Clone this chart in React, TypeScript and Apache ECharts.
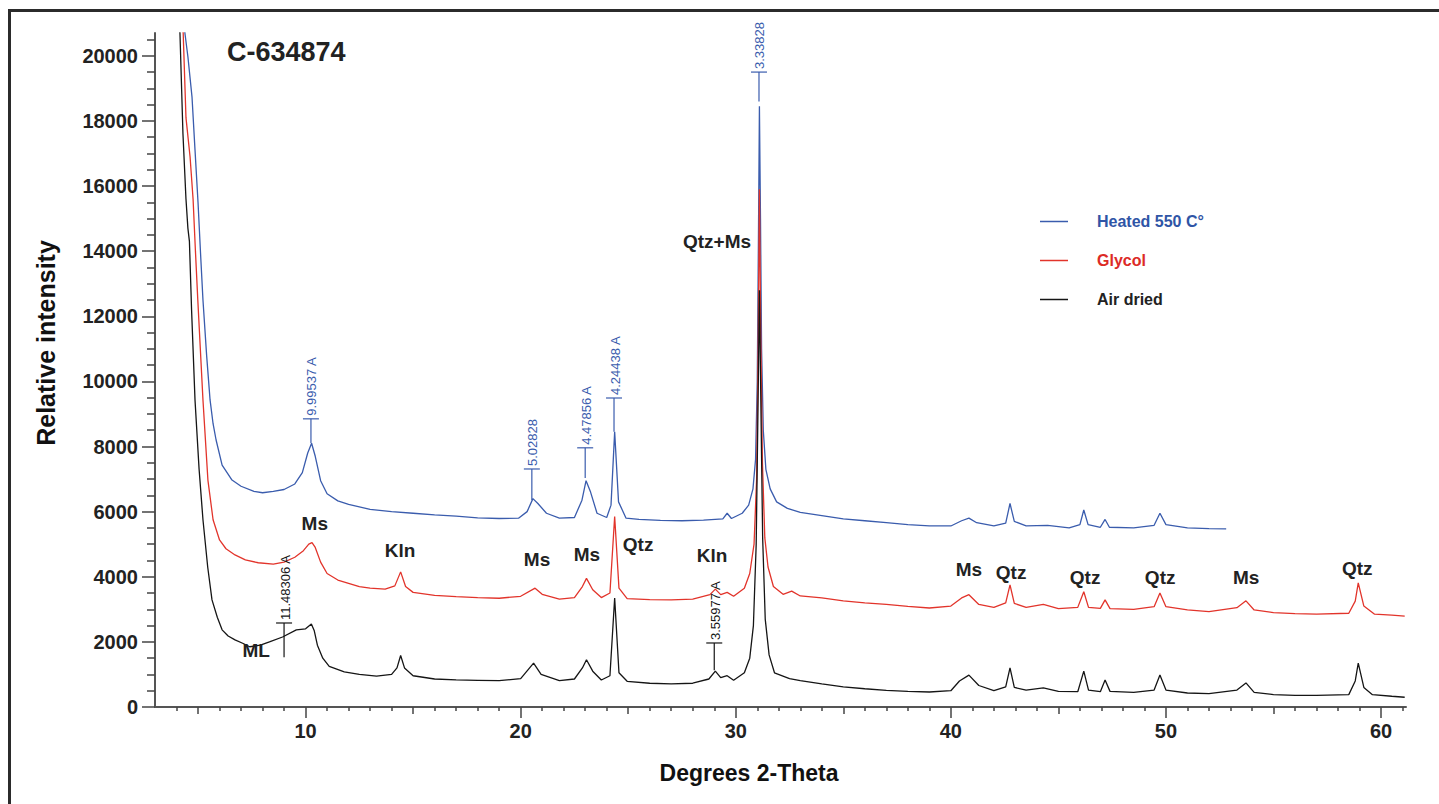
import React, { useEffect, useRef } from "react";
import * as echarts from "echarts";

const FONT = "'Liberation Sans', Arial, Helvetica, sans-serif";

const BLUE = "#3a5cad";
const RED = "#e2342b";
const BLACK = "#151515";

const seriesNames = ["Heated 550 C°", "Glycol", "Air dried"];

// [2-theta, intensity]
const heatedData: number[][] = [
  [4.3, 21500], [4.39, 20700], [4.53, 19970], [4.72, 18740], [4.86, 17110], [5.0, 15500],
  [5.12, 13900], [5.23, 12500], [5.4, 10800], [5.56, 9430], [5.7, 8700], [5.84, 8200],
  [6.12, 7430], [6.58, 6970], [7.0, 6780], [7.6, 6620], [8.0, 6580], [8.5, 6620],
  [9.0, 6680], [9.5, 6850], [9.85, 7200], [10.1, 7800], [10.28, 8100], [10.45, 7700],
  [10.7, 6950], [11.0, 6550], [11.5, 6330], [12, 6220], [13, 6070], [14, 6000], [15, 5950],
  [16, 5900], [17, 5860], [18, 5810], [19, 5790], [19.9, 5800], [20.3, 6000], [20.57, 6400],
  [20.8, 6250], [21.2, 5950], [21.8, 5800], [22.5, 5820], [22.85, 6350], [23.04, 6950],
  [23.25, 6600], [23.55, 5950], [24.0, 5820], [24.2, 6200], [24.37, 8450], [24.55, 6300],
  [24.9, 5800], [25.5, 5760], [26.5, 5730], [27.5, 5720], [28.5, 5740], [29.4, 5780],
  [29.6, 5950], [29.8, 5790], [30.3, 5950], [30.6, 6200], [30.8, 6700], [30.92, 7600],
  [31.0, 10000], [31.05, 14000], [31.1, 18450], [31.15, 15000], [31.2, 11000], [31.28, 8500],
  [31.4, 7300], [31.6, 6700], [31.9, 6300], [32.4, 6100],
  [33, 5980], [34, 5880], [35, 5780], [36, 5720], [37, 5660], [38, 5600], [39, 5560],
  [40, 5560], [40.5, 5720], [40.84, 5800], [41.2, 5660], [42, 5560], [42.55, 5650],
  [42.75, 6250], [42.95, 5700], [43.5, 5560], [44.5, 5580], [45.5, 5500], [46.0, 5600],
  [46.18, 6050], [46.38, 5600], [46.95, 5520], [47.17, 5760], [47.37, 5520], [48.5, 5500],
  [49.45, 5580], [49.72, 5950], [50.0, 5600], [51, 5500], [52, 5480], [52.8, 5470],
];

const glycolData: number[][] = [
  [4.2, 21500], [4.31, 20700], [4.44, 18100], [4.63, 16900], [4.77, 15600], [4.88, 14000],
  [4.99, 12500], [5.23, 9430], [5.46, 6970], [5.7, 5750], [6.0, 5130], [6.3, 4860],
  [6.72, 4670], [7.2, 4520], [7.8, 4430], [8.5, 4390], [9.0, 4450], [9.5, 4600],
  [9.9, 4800], [10.15, 5000], [10.3, 5050], [10.45, 4900], [10.7, 4450], [11.0, 4100],
  [11.5, 3900], [12.0, 3800], [12.5, 3700], [13.0, 3650], [13.7, 3620], [14.15, 3720],
  [14.42, 4150], [14.65, 3700], [15.0, 3520], [16, 3430], [17, 3390], [18, 3360], [19, 3340],
  [20.0, 3400], [20.67, 3650], [21.0, 3460], [21.8, 3310], [22.5, 3360], [22.87, 3700],
  [23.06, 3950], [23.35, 3600], [23.75, 3360], [24.15, 3500], [24.37, 5850], [24.57, 3650],
  [24.95, 3330], [26, 3300], [27, 3290], [28, 3310], [28.8, 3450], [29.05, 3620], [29.3, 3450],
  [29.6, 3520], [29.9, 3400], [30.4, 3650], [30.65, 4100], [30.85, 5000], [30.97, 7000],
  [31.04, 11000], [31.1, 15900], [31.16, 11500], [31.24, 7500], [31.35, 5200], [31.5, 4300],
  [31.75, 3700], [32.2, 3460], [32.6, 3560], [33, 3410],
  [34, 3350], [35, 3260], [36, 3200], [37, 3150], [38, 3090], [39, 3040], [40, 3100],
  [40.5, 3350], [40.84, 3450], [41.3, 3150], [42.0, 3060], [42.55, 3200], [42.75, 3750],
  [42.95, 3180], [43.5, 3060], [44.3, 3150], [45.0, 3020], [45.9, 3060], [46.18, 3540],
  [46.4, 3060], [46.95, 3030], [47.17, 3290], [47.4, 3020], [48.5, 3000], [49.45, 3080],
  [49.72, 3500], [50.0, 3080], [51, 2980], [52, 2930], [53.3, 3050], [53.72, 3260],
  [54.1, 2980], [55, 2900], [56, 2870], [57, 2850], [58.5, 2880], [58.8, 3250], [58.94, 3810],
  [59.2, 3100], [59.7, 2850], [60.5, 2820], [61.1, 2790],
];

const airDriedData: number[][] = [
  [4.05, 21500], [4.16, 20700], [4.3, 17600], [4.44, 15600], [4.53, 14700], [4.6, 14300],
  [4.7, 12200], [4.86, 9430], [5.05, 7300], [5.23, 5750], [5.45, 4300], [5.65, 3290],
  [5.9, 2750], [6.12, 2370], [6.4, 2180], [6.72, 2060], [7.1, 1950], [7.4, 1850],
  [7.9, 1900], [8.32, 2000], [8.93, 2150], [9.57, 2370], [10.0, 2400], [10.27, 2550],
  [10.4, 2350], [10.55, 1900], [10.8, 1500], [11.1, 1250], [11.8, 1080], [12.5, 1000],
  [13.3, 950], [14.0, 1000], [14.25, 1200], [14.42, 1580], [14.6, 1200], [15.0, 960],
  [16, 860], [17, 830], [18, 820], [19, 810], [20.0, 870], [20.6, 1350], [20.95, 1000],
  [21.8, 810], [22.5, 860], [22.87, 1200], [23.06, 1450], [23.35, 1100], [23.75, 830],
  [24.15, 960], [24.37, 3350], [24.57, 1050], [24.95, 790], [26, 730], [27, 710], [28, 730],
  [28.75, 860], [29.05, 1100], [29.3, 900], [29.6, 960], [29.9, 820], [30.4, 1050],
  [30.65, 1500], [30.82, 2500], [30.95, 5000], [31.03, 9000], [31.1, 12800], [31.17, 9200],
  [31.25, 5200], [31.37, 2700], [31.55, 1600], [31.8, 1050],
  [32.5, 870], [33, 810], [34, 710], [35, 620], [36, 560], [37, 510], [38, 480], [39, 460],
  [40, 500], [40.4, 800], [40.84, 980], [41.3, 660], [42.0, 500], [42.55, 620], [42.75, 1200],
  [42.95, 600], [43.5, 520], [44.3, 590], [45.0, 480], [45.9, 470], [46.18, 1100], [46.4, 520],
  [46.95, 470], [47.17, 830], [47.4, 480], [48.5, 450], [49.45, 520], [49.72, 980], [50.0, 520],
  [51, 430], [52, 410], [53.3, 520], [53.72, 740], [54.1, 450], [55, 380], [56, 360], [57, 360],
  [58.5, 380], [58.8, 800], [58.94, 1350], [59.2, 600], [59.6, 380], [60.5, 330], [61.1, 300],
];

// d-spacing markers: [2-theta, bottom of stem, top (bar) of stem]
const heatedMarks: number[][] = [
  [10.25, 8110, 8850], [20.52, 6360, 7310], [23.0, 7030, 7960], [24.34, 8450, 9490], [31.08, 18600, 19500],
];
const heatedMarkLabels = ["9.99537 A", "5.02828", "4.47856 A", "4.24438 A", "3.33828"];
const airMarks: number[][] = [[9.0, 1530, 2580], [29.0, 1130, 1966]];
const airMarkLabels = ["11.48306 A", "3.55977 A"];

// mineral phase labels: [2-theta, intensity]
const phasePos: number[][] = [
  [10.43, 5650], [14.39, 4820], [20.76, 4515], [23.08, 4670], [25.46, 4980], [28.9, 4640],
  [29.13, 14285], [40.84, 4210], [42.8, 4120], [46.24, 3990], [49.73, 3990], [53.73, 3990],
  [58.89, 4240], [7.7, 1750],
];
const phaseNames = ["Ms", "Kln", "Ms", "Ms", "Qtz", "Kln", "Qtz+Ms", "Ms", "Qtz", "Qtz", "Qtz", "Ms", "Qtz", "ML"];

const xLabels = [10, 20, 30, 40, 50, 60];
const xMid = [5, 15, 25, 35, 45, 55];
const xMinor = [4, 6, 7, 8, 9, 11, 12, 13, 14, 16, 17, 18, 19, 21, 22, 23, 24, 26, 27, 28, 29, 31, 32, 33, 34, 36, 37, 38, 39, 41, 42, 43, 44, 46, 47, 48, 49, 51, 52, 53, 54, 56, 57, 58, 59, 61];
const yLabels = [0, 2000, 4000, 6000, 8000, 10000, 12000, 14000, 16000, 18000, 20000];
const yMinor = [500, 1000, 1500, 2500, 3000, 3500, 4500, 5000, 5500, 6500, 7000, 7500, 8500, 9000, 9500, 10500, 11000, 11500, 12500, 13000, 13500, 14500, 15000, 15500, 16500, 17000, 17500, 18500, 19000, 19500, 20500];

const X_MIN = 3;
const X_MAX = 61.16;
const Y_MAX = 20700;

function markerRenderer(labels: string[], color: string) {
  return (params: any, api: any) => {
    const x = api.value(0);
    const b = api.coord([x, api.value(1)]);
    const t = api.coord([x, api.value(2)]);
    return {
      type: "group",
      children: [
        { type: "line", shape: { x1: b[0], y1: b[1], x2: t[0], y2: t[1] }, style: { stroke: color, lineWidth: 1.2 } },
        { type: "line", shape: { x1: t[0] - 8, y1: t[1], x2: t[0] + 8, y2: t[1] }, style: { stroke: color, lineWidth: 1.2 } },
        {
          type: "text",
          x: t[0] + 1,
          y: t[1] - 3,
          rotation: Math.PI / 2,
          style: { text: labels[params.dataIndex], fill: color, fontSize: 13, fontFamily: FONT, align: "left", verticalAlign: "middle" },
        },
      ],
    };
  };
}

export default function App() {
  const ref = useRef<HTMLDivElement>(null);
  useEffect(() => {
    if (!ref.current) return;
    const chart = echarts.init(ref.current, null, { renderer: "svg" });
    const tickStyle = { color: "#444", width: 1.5 };
    const baseX = { type: "value", min: X_MIN, max: X_MAX, position: "bottom", splitLine: { show: false } };
    const baseY = { type: "value", min: 0, max: Y_MAX, position: "left", splitLine: { show: false } };
    chart.setOption({
      animation: false,
      backgroundColor: "#ffffff",
      grid: { left: 155, right: 33, top: 33, bottom: 97, containLabel: false },
      legend: {
        orient: "vertical",
        left: 1035,
        top: 208,
        icon: "rect",
        itemWidth: 28,
        itemHeight: 1.5,
        itemGap: 22,
        selectedMode: false,
        data: [
          { name: seriesNames[0], textStyle: { color: "#2f55a6" } },
          { name: seriesNames[1], textStyle: { color: "#dc2a26" } },
          { name: seriesNames[2], textStyle: { color: "#222" } },
        ],
        textStyle: { fontSize: 16, fontWeight: "bold", fontFamily: FONT, lineHeight: 17, padding: [0, 0, 0, 24] },
      },
      xAxis: [
        {
          ...baseX,
          axisLine: { show: true, lineStyle: { color: "#555", width: 2 } },
          axisTick: { show: true, customValues: xLabels, length: 11, lineStyle: tickStyle },
          axisLabel: { customValues: xLabels, margin: 14, fontSize: 20, fontWeight: "bold", color: "#222", fontFamily: FONT, formatter: (v: number) => String(v) },
        },
        { ...baseX, axisLine: { show: false }, axisTick: { show: true, customValues: xMid, length: 7, lineStyle: tickStyle }, axisLabel: { show: false } },
        { ...baseX, axisLine: { show: false }, axisTick: { show: true, customValues: xMinor, length: 4, lineStyle: tickStyle }, axisLabel: { show: false } },
      ],
      yAxis: [
        {
          ...baseY,
          axisLine: { show: true, lineStyle: { color: "#555", width: 2 } },
          axisTick: { show: true, customValues: yLabels, length: 13, lineStyle: tickStyle },
          axisLabel: { customValues: yLabels, margin: 17, fontSize: 20, fontWeight: "bold", color: "#222", fontFamily: FONT, formatter: (v: number) => String(v) },
        },
        { ...baseY, axisLine: { show: false }, axisTick: { show: true, customValues: yMinor, length: 8, lineStyle: tickStyle }, axisLabel: { show: false } },
      ],
      graphic: [
        { type: "rect", left: 7, top: 8, shape: { width: 1500, height: 900 }, style: { fill: "none", stroke: "#2b2b2b", lineWidth: 3 }, silent: true },
        { type: "text", left: 227, top: 38, style: { text: "C-634874", fontSize: 27, fontWeight: "bold", fill: "#222", fontFamily: FONT } },
        { type: "text", x: 46, y: 343, rotation: Math.PI / 2, style: { text: "Relative intensity", fontSize: 25, fontWeight: "bold", fill: "#111", fontFamily: FONT, align: "center", verticalAlign: "middle" } },
        { type: "text", x: 749, y: 773, style: { text: "Degrees 2-Theta", fontSize: 23, fontWeight: "bold", fill: "#111", fontFamily: FONT, align: "center", verticalAlign: "middle" } },
      ],
      series: [
        { name: seriesNames[0], type: "line", data: heatedData, symbol: "none", showSymbol: false, lineStyle: { color: BLUE, width: 1.3 }, itemStyle: { color: BLUE }, z: 2 },
        { name: seriesNames[1], type: "line", data: glycolData, symbol: "none", showSymbol: false, lineStyle: { color: RED, width: 1.3 }, itemStyle: { color: RED }, z: 3 },
        { name: seriesNames[2], type: "line", data: airDriedData, symbol: "none", showSymbol: false, lineStyle: { color: BLACK, width: 1.3 }, itemStyle: { color: BLACK }, z: 4 },
        { name: "heatedMarks", type: "custom", data: heatedMarks, renderItem: markerRenderer(heatedMarkLabels, BLUE), z: 5, silent: true },
        { name: "airMarks", type: "custom", data: airMarks, renderItem: markerRenderer(airMarkLabels, BLACK), z: 5, silent: true },
        {
          name: "phases",
          type: "custom",
          data: phasePos,
          z: 6,
          silent: true,
          renderItem: (params: any, api: any) => {
            const p = api.coord([api.value(0), api.value(1)]);
            return {
              type: "text",
              x: p[0],
              y: p[1],
              style: { text: phaseNames[params.dataIndex], fill: "#222", fontSize: 19, fontWeight: "bold", fontFamily: FONT, align: "center", verticalAlign: "middle" },
            };
          },
        },
      ],
    });
    return () => chart.dispose();
  }, []);
  return <div ref={ref} style={{ position: "absolute", left: 0, top: 0, width: 1439, height: 804, background: "#fff" }} />;
}
